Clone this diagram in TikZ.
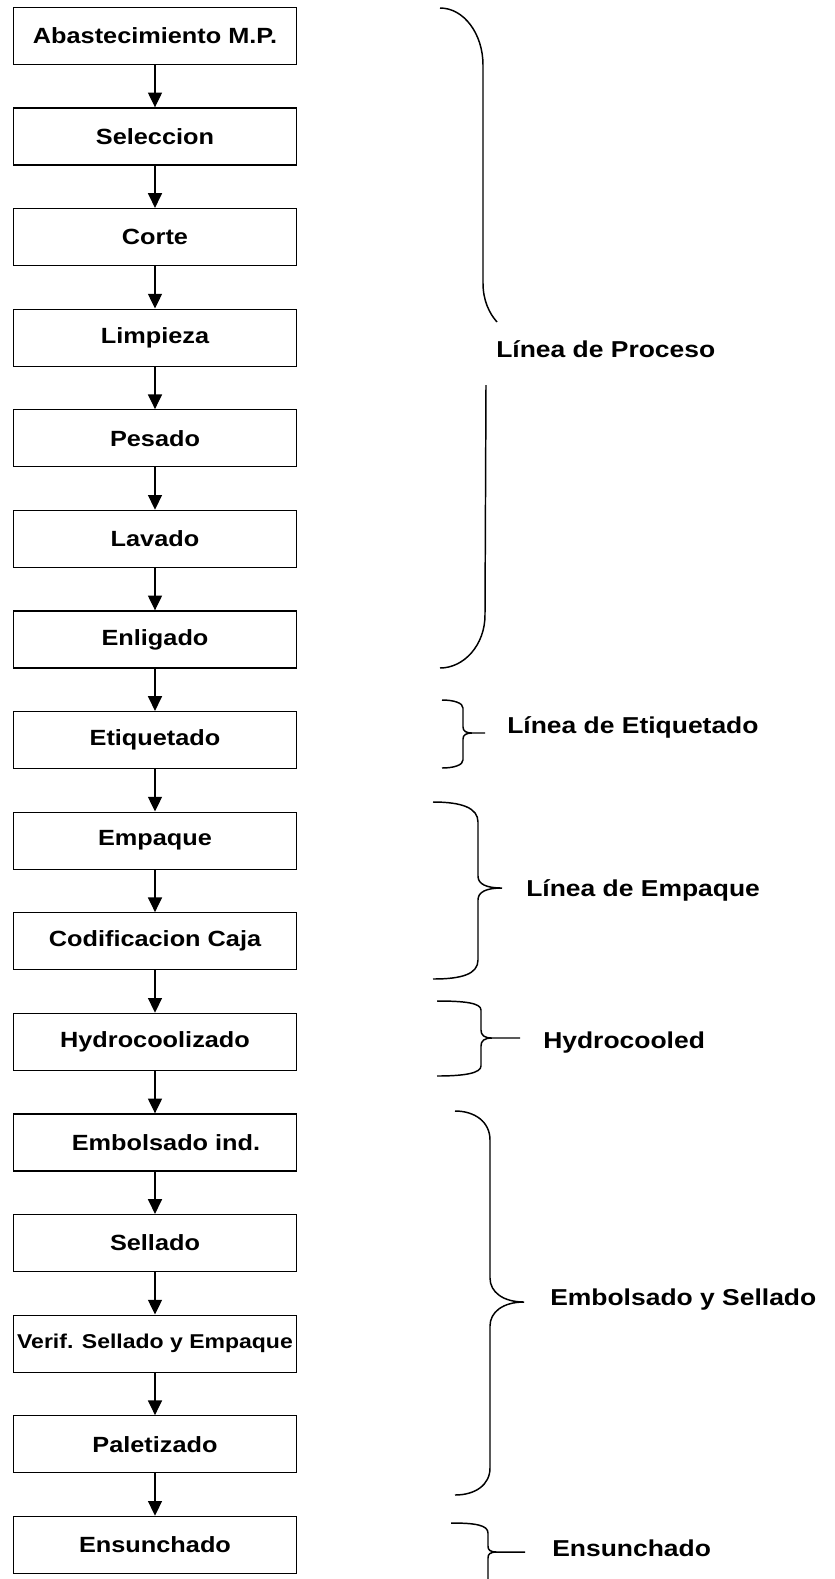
\documentclass[tikz,border=0pt]{standalone}
\usepackage{fontspec}
\setmainfont{Liberation Sans}[FakeStretch=1.15]
\usetikzlibrary{arrows.meta}

\begin{document}
\begin{tikzpicture}[x=0.75pt,y=-0.75pt,
  proc/.style={draw,line width=0.9pt,minimum width=211.9pt,minimum height=42.75pt,inner sep=0pt,
    font=\fontsize{16.5}{18}\selectfont\bfseries},
  flow/.style={line width=0.9pt,-{Triangle[width=10.5pt,length=11pt]}},
  brc/.style={line width=1.1pt},
  lbl/.style={anchor=base west,inner sep=0pt,font=\fontsize{17.25}{19}\selectfont\bfseries}]
  \useasboundingbox (0,0) rectangle (835,1579);

  % process boxes
  \node[proc] (abast) at (155,35.8) {Abastecimiento M.P.};
  \node[proc] (selec) at (155,136.4) {Seleccion};
  \node[proc] (corte) at (155,237.0) {Corte};
  \node[proc] (limp) at (155,337.6) {Limpieza};
  \node[proc] (pesado) at (155,438.2) {Pesado};
  \node[proc] (lavado) at (155,538.8) {Lavado};
  \node[proc] (enlig) at (155,639.4) {Enligado};
  \node[proc] (etiq) at (155,740.0) {Etiquetado};
  \node[proc] (empaq) at (155,840.6) {Empaque};
  \node[proc] (codif) at (155,941.2) {Codificacion Caja};
  \node[proc] (hydro) at (155,1041.8) {Hydrocoolizado};
  \node[proc] (embol) at (155,1142.4) {\hspace*{16.5pt}Embolsado ind.};
  \node[proc] (sella) at (155,1243.0) {Sellado};
  \node[proc,font=\fontsize{15}{17}\selectfont\bfseries] (verif) at (155,1343.6) {Verif. Sellado y Empaque};
  \node[proc] (palet) at (155,1444.2) {Paletizado};
  \node[proc] (ensun) at (155,1544.8) {Ensunchado};

  \draw[flow] (abast) -- (selec); \draw[flow] (selec) -- (corte);
  \draw[flow] (corte) -- (limp); \draw[flow] (limp) -- (pesado);
  \draw[flow] (pesado) -- (lavado); \draw[flow] (lavado) -- (enlig);
  \draw[flow] (enlig) -- (etiq); \draw[flow] (etiq) -- (empaq);
  \draw[flow] (empaq) -- (codif); \draw[flow] (codif) -- (hydro);
  \draw[flow] (hydro) -- (embol); \draw[flow] (embol) -- (sella);
  \draw[flow] (sella) -- (verif); \draw[flow] (verif) -- (palet);
  \draw[flow] (palet) -- (ensun);

  % braces and line names
  \draw[brc] (440,8) .. controls (464,8) and (483,34) .. (483,65) -- (483,283)
    .. controls (483,300) and (489,313) .. (497,322);
  \draw[brc] (486,385) -- (485,615) .. controls (485,645) and (464,668) .. (440,668);
  \node[lbl] (lproc) at (496,357) {Línea de Proceso};

  \draw[brc] (442,700) .. controls (454,700) and (463,703) .. (463,708) -- (463,727)
    .. controls (463,731) and (466,733) .. (472,733) -- (485,733) -- (472,733)
    .. controls (466,733) and (463,735) .. (463,739) -- (463,760)
    .. controls (463,765) and (454,768) .. (442,768);
  \node[lbl] (letiq) at (507,733) {Línea de Etiquetado};

  \draw[brc] (433,802) .. controls (462,802) and (478,808) .. (478,822) -- (478,876)
    .. controls (478,884) and (486,888) .. (502,888)
    .. controls (486,888) and (478,892) .. (478,900) -- (478,960)
    .. controls (478,974) and (462,979) .. (433,979);
  \node[lbl] (lempaq) at (526,896) {Línea de Empaque};

  \draw[brc] (437,1001) .. controls (465,1001) and (481,1003) .. (481,1010) -- (481,1030)
    .. controls (481,1035) and (484,1038) .. (492,1038) -- (520,1038) -- (492,1038)
    .. controls (484,1038) and (481,1041) .. (481,1046) -- (481,1066)
    .. controls (481,1073) and (465,1076) .. (437,1076);
  \node[lbl] (lhydro) at (543,1048) {Hydrocooled};

  \draw[brc] (455,1111) .. controls (475,1111) and (490,1122) .. (490,1140) -- (490,1278)
    .. controls (490,1292) and (503,1302) .. (524,1302)
    .. controls (503,1302) and (490,1312) .. (490,1326) -- (490,1468)
    .. controls (490,1485) and (475,1495) .. (455,1495);
  \node[lbl] (lembol) at (550,1305) {Embolsado y Sellado};

  \draw[brc] (451,1523) .. controls (475,1523) and (488,1525) .. (488,1533) -- (488,1546)
    .. controls (488,1550) and (490,1552) .. (497,1552) -- (525,1552) -- (497,1552)
    .. controls (490,1552) and (488,1554) .. (488,1558) -- (488,1579);
  \node[lbl] (lensun) at (552,1556) {Ensunchado};
\end{tikzpicture}
\end{document}
